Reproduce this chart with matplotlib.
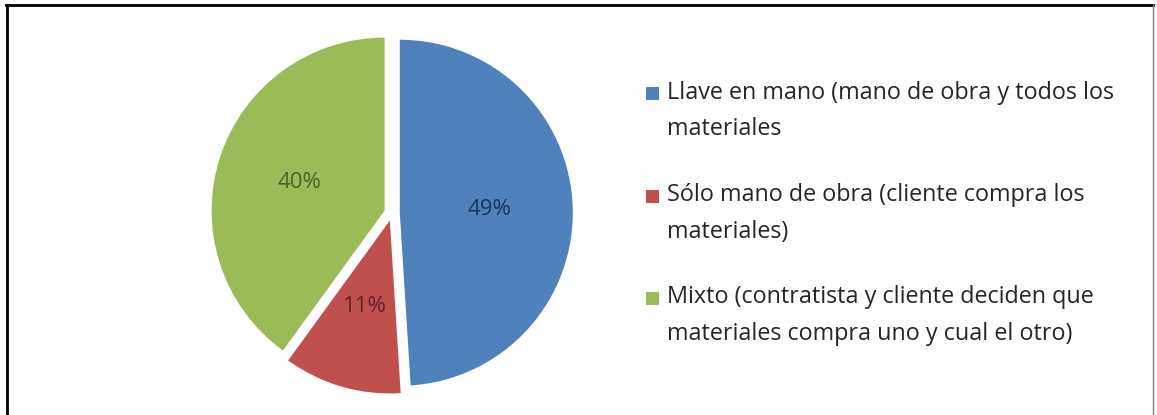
import matplotlib
matplotlib.use("Agg")
import matplotlib.pyplot as plt
from matplotlib.patches import Rectangle
from matplotlib.lines import Line2D

W, H = 1157, 415

categories = [
    "Llave en mano (mano de obra y todos los\nmateriales",
    "Sólo mano de obra (cliente compra los\nmateriales)",
    "Mixto (contratista y cliente deciden que\nmateriales compra uno y cual el otro)",
]
shares = [49, 11, 40]
slice_colors = ["#4F81BD", "#C0504D", "#9BBB59"]
pct_colors = ["#17375E", "#632523", "#4F6228"]

plt.rcParams["font.family"] = ["Open Sans", "DejaVu Sans"]

fig = plt.figure(figsize=(W / 100, H / 100), dpi=100)
fig.patch.set_facecolor("white")

# pie axes: centre ~ (392, 213) px, radius ~173 px
r_px = 173
cx, cy = 392, 213
lim = 1.15
side = 2 * lim * r_px
ax = fig.add_axes([(cx - side / 2) / W, (H - cy - side / 2) / H, side / W, side / H])

wedges, texts, autotexts = ax.pie(
    shares,
    colors=slice_colors,
    startangle=90,
    counterclock=False,
    explode=[0.045] * len(shares),
    autopct="%1.0f%%",
    pctdistance=0.52,
    wedgeprops=dict(linewidth=0),
    textprops=dict(fontsize=16),
)
for t, c in zip(autotexts, pct_colors):
    t.set_color(c)
ax.set_xlim(-lim, lim)
ax.set_ylim(-lim, lim)
ax.set_aspect("equal")
ax.axis("off")

# legend entries drawn on the figure
entry_centers = [111, 213.5, 315.5]
for label, color, yc in zip(categories, slice_colors, entry_centers):
    first_line_y = yc - 17.5
    fig.patches.append(Rectangle((646 / W, 1 - (first_line_y + 6.5) / H), 13 / W, 13 / H,
                                 transform=fig.transFigure, facecolor=color,
                                 edgecolor="none"))
    fig.text(667 / W, 1 - yc / H, label, fontsize=16.8, color="#262626",
             va="center", ha="left", linespacing=1.7)

# chart frame
fig.add_artist(Line2D([6 / W, 1153 / W], [1 - 5.5 / H, 1 - 5.5 / H],
                      transform=fig.transFigure, color="black", linewidth=2))
fig.add_artist(Line2D([7 / W, 7 / W], [1 - 5 / H, 0],
                      transform=fig.transFigure, color="black", linewidth=2))
fig.add_artist(Line2D([1153 / W, 1153 / W], [1 - 5 / H, 0],
                      transform=fig.transFigure, color="#7f7f7f", linewidth=1))

fig.savefig("out.png", dpi=100)
